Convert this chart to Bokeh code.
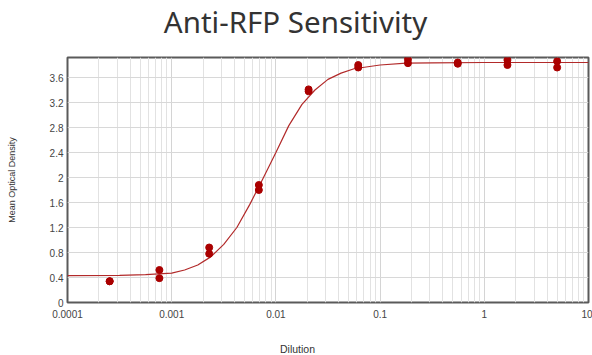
from bokeh.plotting import figure
from bokeh.layouts import column
from bokeh.models import FixedTicker, Label, ColumnDataSource
from bokeh.embed import file_html
from bokeh.resources import INLINE

# ---- data ----
dilution = [0.000254, 0.000762, 0.00229, 0.00686, 0.0206, 0.0617, 0.185, 0.556, 1.667, 5.0]
od_rep1 = [0.34, 0.52, 0.88, 1.88, 3.41, 3.80, 3.89, 3.84, 3.88, 3.86]
od_rep2 = [0.34, 0.39, 0.78, 1.80, 3.38, 3.76, 3.83, 3.82, 3.80, 3.76]

curve_x = [1e-4, 3.16e-4, 5.62e-4, 1e-3, 1.33e-3, 1.78e-3, 2.37e-3, 3.16e-3, 4.22e-3,
           5.62e-3, 7.5e-3, 1e-2, 1.33e-2, 1.78e-2, 2.37e-2, 3.16e-2, 4.22e-2, 5.62e-2,
           0.1, 0.178, 0.316, 1.0, 10.0]
curve_y = [0.43, 0.435, 0.445, 0.47, 0.52, 0.60, 0.73, 0.93, 1.20,
           1.57, 1.98, 2.40, 2.83, 3.17, 3.40, 3.57, 3.67, 3.74,
           3.80, 3.83, 3.835, 3.84, 3.84]

y_ticks = [0, 0.4, 0.8, 1.2, 1.6, 2, 2.4, 2.8, 3.2, 3.6]
y_labels = ["0", "0.4", "0.8", "1.2", "1.6", "2", "2.4", "2.8", "3.2", "3.6"]
x_ticks = [0.0001, 0.001, 0.01, 0.1, 1, 10]
x_labels = ["0.0001", "0.001", "0.01", "0.1", "1", "10"]

title_text = "Anti-RFP Sensitivity"
x_title = "Dilution"
y_title = "Mean Optical Density"

W = 592
TOP_H = 45
BOT_H = 14
MAIN_H = 355 - TOP_H - BOT_H


def strip(h):
    f = figure(width=W, height=h, output_backend="svg", toolbar_location=None,
               x_axis_location=None, y_axis_location=None,
               min_border=0, min_border_left=0, min_border_right=0,
               min_border_top=0, min_border_bottom=0)
    f.outline_line_color = None
    f.grid.visible = False
    f.background_fill_color = "white"
    f.border_fill_color = "white"
    return f


# ---- title strip ----
top = strip(TOP_H)
top.add_layout(Label(x=228, y=24, x_units="screen", y_units="screen", text=title_text,
                     text_font="Noto Sans", text_font_size="29.5px", text_color="#333333",
                     text_align="center", text_baseline="alphabetic"))

# ---- main figure ----
p = figure(width=W, height=MAIN_H, x_axis_type="log",
           x_range=(1e-4, 10), y_range=(0, 3.92),
           output_backend="svg", toolbar_location=None,
           min_border_left=67, min_border_right=4,
           min_border_top=12, min_border_bottom=MAIN_H - (302 - TOP_H))
p.background_fill_color = "white"
p.border_fill_color = "white"
p.outline_line_color = "#5a5a5a"
p.outline_line_width = 2

minor = []
for d in x_ticks[:-1]:
    for m in range(2, 10):
        minor.append(d * m)

p.xaxis.ticker = FixedTicker(ticks=x_ticks, minor_ticks=minor)
p.yaxis.ticker = FixedTicker(ticks=y_ticks)
p.xaxis.major_label_overrides = {t: l for t, l in zip(x_ticks, x_labels)}
p.yaxis.major_label_overrides = {t: l for t, l in zip(y_ticks, y_labels)}

for ax in (p.xaxis[0], p.yaxis[0]):
    ax.axis_line_color = None
    ax.major_tick_line_color = None
    ax.minor_tick_line_color = None
    ax.major_tick_out = 0
    ax.major_tick_in = 0
    ax.major_label_text_font = "Liberation Sans"
    ax.major_label_text_font_size = "10px"
    ax.major_label_text_color = "#444444"
p.yaxis.major_label_standoff = 4
p.xaxis.major_label_standoff = 3

p.yaxis.axis_label = y_title
p.yaxis.axis_label_text_font = "Liberation Sans"
p.yaxis.axis_label_text_font_size = "9px"
p.yaxis.axis_label_text_font_style = "normal"
p.yaxis.axis_label_text_color = "#333333"
p.yaxis.axis_label_standoff = 30

p.xgrid.grid_line_color = "#d4d4d4"
p.xgrid.minor_grid_line_color = "#e2e2e2"
p.ygrid.grid_line_color = "#d8d8d8"

p.line(curve_x, curve_y, line_color="#b22a2a", line_width=1.2)

src = ColumnDataSource(dict(x=dilution + dilution, y=od_rep1 + od_rep2))
p.scatter("x", "y", source=src, size=7, fill_color="#aa0000", line_color="#aa0000")

# ---- x title strip ----
bot = strip(BOT_H)
bot.add_layout(Label(x=230, y=7, x_units="screen", y_units="screen", text=x_title,
                     text_font="Liberation Sans", text_font_size="10.5px", text_color="#333333",
                     text_align="center", text_baseline="middle"))

layout = column(top, p, bot, spacing=0)
open("out.html", "w").write(file_html(layout, INLINE))
